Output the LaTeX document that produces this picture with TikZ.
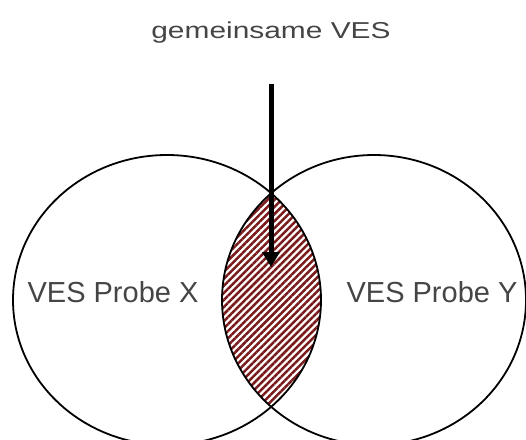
\documentclass[tikz,border=0pt]{standalone}
\usepackage{fontspec}
\setmainfont{Liberation Sans}
\usetikzlibrary{arrows.meta,patterns.meta}
\definecolor{hatch}{HTML}{7A1A1A}
\definecolor{textgray}{HTML}{454545}
\tikzset{
  ring/.style={draw=black,line width=1.8pt},
  lbl/.style={text=textgray,font=\fontsize{29}{34}\selectfont,inner sep=0pt},
  headline/.style={text=textgray,font=\fontsize{23}{28}\selectfont,inner sep=0pt},
  pointer/.style={-{Triangle[length=15pt,width=17pt]},line width=5pt},
  lens/.style={pattern={Lines[angle=45,distance=5pt,line width=2.5pt]},pattern color=hatch}
}
\begin{document}
\begin{tikzpicture}[x=1pt,y=-1pt]
  \clip (0,0) rectangle (526,439);
  \coordinate (cx) at (167,300);
  \coordinate (cy) at (374,300);
  % overlap
  \begin{scope}
    \clip (cx) ellipse [x radius=154,y radius=145];
    \fill[lens] (cy) ellipse [x radius=152,y radius=145];
  \end{scope}
  \draw[ring] (cx) ellipse [x radius=154,y radius=145];
  \draw[ring] (cy) ellipse [x radius=152,y radius=145];
  \node[lbl,anchor=base] (px) at (113,302) {VES Probe X};
  \node[lbl,anchor=base] (py) at (432,302) {VES Probe Y};
  \node[headline,anchor=base] (common) at (271,38) {\scalebox{1.3}[1]{gemeinsame VES}};
  \coordinate (start) at (271,84);
  \coordinate (tip) at (271,267);
  \draw[pointer] (start) -- (tip);
\end{tikzpicture}
\end{document}
